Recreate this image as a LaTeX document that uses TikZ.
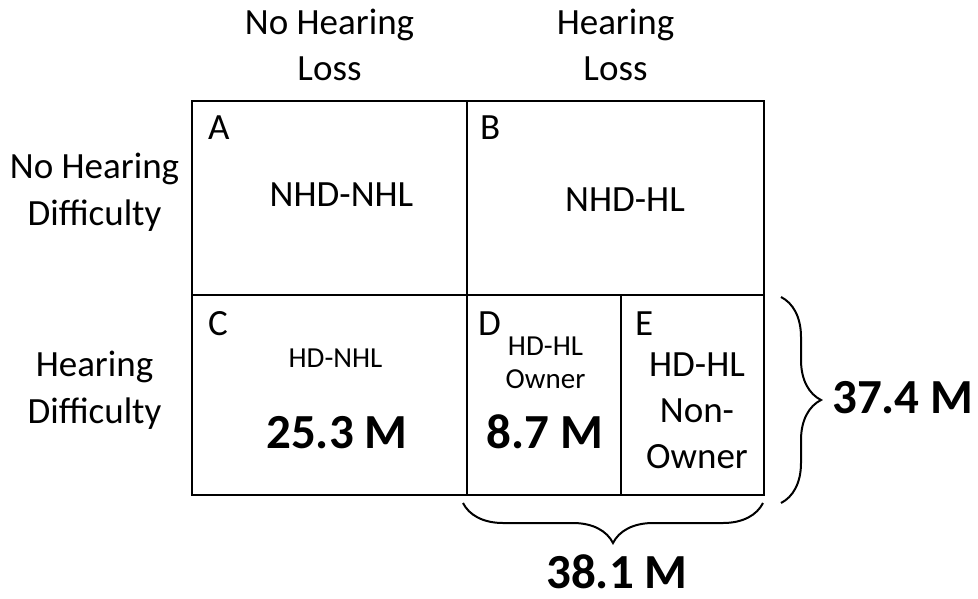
\documentclass[tikz,border=0pt]{standalone}
\usepackage{fontspec}
\setmainfont{Carlito}
\usetikzlibrary{decorations.pathreplacing}
\tikzset{
    cell/.style={draw, line width=2.5pt, inner sep=0pt},
    txt/.style={font=\fontsize{37}{46}\selectfont, align=center, inner sep=0pt, anchor=base},
    smalltxt/.style={font=\fontsize{29}{33}\selectfont, align=center, inner sep=0pt, anchor=base},
    bigtxt/.style={font=\bfseries\fontsize{49}{55}\selectfont, inner sep=0pt, anchor=base},
    letter/.style={font=\fontsize{37}{46}\selectfont, inner sep=0pt, anchor=base west},
    curly/.style={decorate, decoration={brace, amplitude=40pt}, line width=2pt}
}
\begin{document}
\begin{tikzpicture}[x=1pt, y=-1pt]
            \useasboundingbox (0,0) rectangle (978,598);
            \node[cell, minimum width=275pt, minimum height=194pt] at (329.5,198) (cellA) {};
            \node[cell, minimum width=297pt, minimum height=194pt] at (615.5,198) (cellB) {};
            \node[cell, minimum width=275pt, minimum height=200pt] at (329.5,395) (cellC) {};
            \node[cell, minimum width=154pt, minimum height=200pt] at (544,395) (cellD) {};
            \node[cell, minimum width=143pt, minimum height=200pt] at (692.5,395) (cellE) {};
            \node[txt] at (329.5,80) (headNHL) {No Hearing\\Loss};
            \node[txt] at (615.5,80) (headHL) {Hearing\\Loss};
            \node[txt, font=\fontsize{37}{47}\selectfont] at (94.5,225) (rowNHD) {No Hearing\\Difficulty};
            \node[txt, font=\fontsize{37}{47}\selectfont] at (94.5,423) (rowHD) {Hearing\\Difficulty};
            \node[letter] at (208,139) (labA) {A};
            \node[letter] at (480,139) (labB) {B};
            \node[letter] at (208,335) (labC) {C};
            \node[letter] at (478,335) (labD) {D};
            \node[letter] at (635,335) (labE) {E};
            \node[txt] at (341.5,206) (nameA) {NHD-NHL};
            \node[txt] at (625,211) (nameB) {NHD-HL};
            \node[smalltxt] at (335.5,367) (nameC) {HD-NHL};
            \node[bigtxt] at (337,448) (valC) {25.3 M};
            \node[smalltxt] at (545.5,388) (nameD) {HD-HL\\Owner};
            \node[bigtxt] at (545,448) (valD) {8.7 M};
            \node[txt] at (697,468) (nameE) {HD-HL\\Non-\\Owner};
            \coordinate (rtop) at (781,297);
            \coordinate (rbot) at (781,503);
            \coordinate (bright) at (763,503);
            \coordinate (bleft) at (463,503);
            \draw[curly] (rtop) -- (rbot);
            \draw[curly] (bright) -- (bleft);
            \node[bigtxt, anchor=base west] at (832,413) (totHD) {37.4 M};
            \node[bigtxt] at (617,588) (totHL) {38.1 M};
        \end{tikzpicture}
\end{document}
